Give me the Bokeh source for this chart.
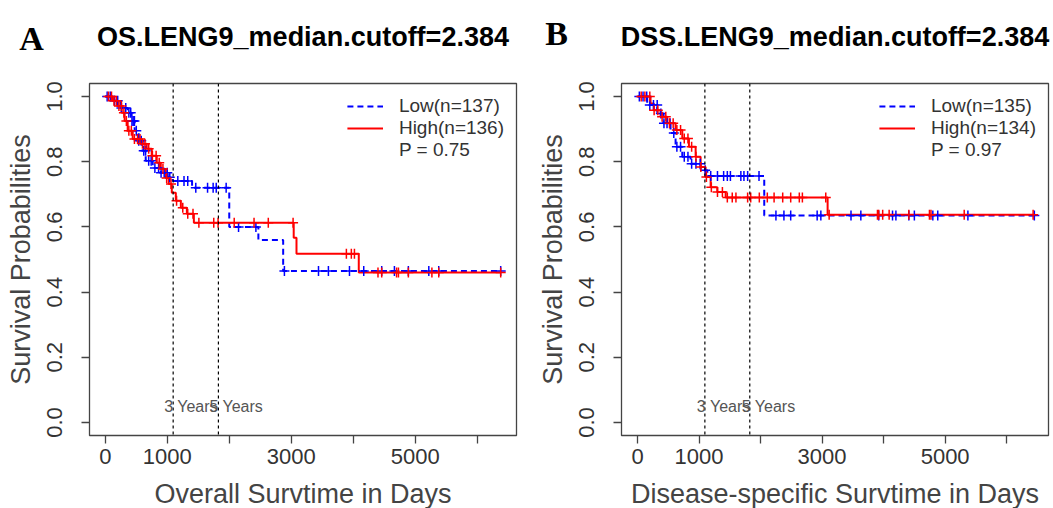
import numpy as np
from bokeh.plotting import figure
from bokeh.layouts import row
from bokeh.models import Range1d, FixedTicker, Span, Label, Legend, LegendItem
from bokeh.embed import file_html
from bokeh.resources import INLINE

# ---------------- data ----------------
x_ticks = [0, 1000, 2000, 3000, 4000, 5000, 6000]
x_tick_labels = ["0", "1000", "", "3000", "", "5000", ""]
y_ticks = [0.0, 0.2, 0.4, 0.6, 0.8, 1.0]
y_tick_labels = ["0.0", "0.2", "0.4", "0.6", "0.8", "1.0"]
year_marks = [1095, 1825]
year_labels = ["3 Years", "5 Years"]
y_label = "Survival Probabilities"

# Panel A: overall survival
os_panel = "A"
os_title = "OS.LENG9_median.cutoff=2.384"
os_xlabel = "Overall Survtime in Days"
os_legend = ["Low(n=137)", "High(n=136)", "P = 0.75"]
os_low_time = [0, 134, 248, 360, 425, 474, 539, 603, 652, 765, 895, 1008, 1089, 1400,
               2000, 2470, 2870, 6380]
os_low_surv = [1.0, 0.987, 0.965, 0.95, 0.925, 0.895, 0.864, 0.834, 0.803, 0.781, 0.766,
               0.752, 0.741, 0.72, 0.60, 0.56, 0.465, 0.465]
os_low_cens = [30, 80, 150, 200, 260, 330, 380, 410, 430, 450, 470, 500, 540, 580, 620,
               650, 700, 740, 800, 860, 900, 950, 1000, 1040, 1170, 1270, 1330, 1460,
               1650, 1740, 1790, 1950, 2150, 2430, 2890, 3440, 3600, 3940, 4170, 4460,
               4665, 4890, 5220, 5380, 6380]
os_high_time = [0, 118, 199, 264, 312, 361, 442, 571, 668, 749, 830, 895, 976, 1024, 1073,
                1138, 1219, 1316, 1429, 3040, 3085, 4090, 6380]
os_high_surv = [1.0, 0.987, 0.971, 0.95, 0.925, 0.895, 0.87, 0.855, 0.84, 0.818, 0.797,
                0.778, 0.75, 0.732, 0.705, 0.68, 0.659, 0.64, 0.613, 0.567, 0.518, 0.46, 0.46]
os_high_cens = [50, 100, 140, 180, 220, 260, 300, 340, 380, 420, 470, 520, 560, 600, 640,
                700, 760, 820, 870, 930, 990, 1060, 1150, 1250, 1330, 1415, 1510, 1750,
                1820, 2080, 2400, 2630, 3030, 3890, 3970, 4020, 4400, 4460, 4700, 4730,
                4890, 5270, 5380, 6380]

# Panel B: disease-specific survival
dss_panel = "B"
dss_title = "DSS.LENG9_median.cutoff=2.384"
dss_xlabel = "Disease-specific Survtime in Days"
dss_legend = ["Low(n=135)", "High(n=134)", "P = 0.97"]
dss_low_time = [0, 158, 321, 423, 537, 619, 728, 863, 1026, 1135, 2060, 6450]
dss_low_surv = [1.0, 0.974, 0.948, 0.918, 0.888, 0.846, 0.815, 0.794, 0.774, 0.756,
                0.635, 0.635]
dss_low_cens = [30, 90, 150, 200, 260, 320, 380, 430, 480, 530, 590, 640, 700, 760, 820,
                880, 950, 1020, 1100, 1190, 1300, 1400, 1460, 1510, 1680, 1730, 1790,
                1975, 2250, 2380, 2490, 2920, 2980, 3470, 3630, 3920, 4145, 4200, 4410,
                4500, 4800, 4880, 5370, 6450]
dss_high_time = [0, 212, 266, 375, 484, 619, 728, 836, 945, 1026, 1107, 1189, 1297, 1433,
                 3090, 6430]
dss_high_surv = [1.0, 0.979, 0.958, 0.938, 0.918, 0.897, 0.871, 0.846, 0.815, 0.784,
                 0.753, 0.722, 0.707, 0.69, 0.637, 0.637]
dss_high_cens = [60, 120, 200, 270, 330, 400, 460, 520, 580, 640, 700, 760, 820, 880, 950,
                 1030, 1120, 1200, 1300, 1380, 1460, 1540, 1600, 1790, 1840, 1980, 2110,
                 2220, 2360, 2490, 2630, 2680, 3060, 3115, 3900, 3920, 3985, 4090, 4410,
                 4745, 4770, 5310, 6430]

FONT = "Liberation Sans"
BLUE = "#0000FF"
RED = "#FF0000"
FRAME_W, FRAME_H = 427, 352
Y_RANGE = (-0.04, 1.04)


def surv_at(times, surv, pts):
    t = np.asarray(times, dtype=float)
    s = np.asarray(surv, dtype=float)
    idx = np.searchsorted(t, np.asarray(pts, dtype=float), side="right") - 1
    return s[np.clip(idx, 0, len(s) - 1)]


def km_panel(panel, title, xlabel, legend_labels, low_t, low_s, low_c, high_t, high_s,
             high_c, xr, border_l, border_r, year_dx, letter_px, title_py, letter_py):
    p = figure(frame_width=FRAME_W, frame_height=FRAME_H, x_range=Range1d(*xr),
               y_range=Range1d(*Y_RANGE), output_backend="svg",
               toolbar_location=None, min_border_left=border_l,
               min_border_right=border_r, min_border_top=83, min_border_bottom=72)
    p.background_fill_color = "white"
    p.border_fill_color = "white"
    p.outline_line_color = "#444444"
    p.outline_line_width = 1.3
    p.xgrid.grid_line_color = None
    p.ygrid.grid_line_color = None

    # axes
    p.xaxis.ticker = FixedTicker(ticks=x_ticks)
    p.xaxis.major_label_overrides = {t: l for t, l in zip(x_ticks, x_tick_labels)}
    p.yaxis.ticker = FixedTicker(ticks=y_ticks)
    p.yaxis.major_label_overrides = {t: l for t, l in zip(y_ticks, y_tick_labels)}
    p.yaxis.major_label_orientation = "vertical"
    for ax in (p.xaxis, p.yaxis):
        ax.axis_line_color = None
        ax.major_tick_line_color = "#444444"
        ax.major_tick_line_width = 1.3
        ax.major_tick_out = 8
        ax.major_tick_in = 0
        ax.minor_tick_line_color = None
        ax.major_label_text_font = FONT
        ax.major_label_text_color = "#333333"
        ax.axis_label_text_font = FONT
        ax.axis_label_text_font_style = "normal"
        ax.axis_label_text_color = "#444444"
        ax.axis_label_text_font_size = "27px"
    p.xaxis.major_label_text_font_size = "22px"
    p.yaxis.major_label_text_font_size = "22px"
    p.xaxis.major_label_standoff = 5
    p.xaxis.axis_label_standoff = 12
    p.yaxis.major_label_standoff = 19
    p.yaxis.axis_label_standoff = 9
    p.xaxis.axis_label = xlabel
    p.yaxis.axis_label = y_label

    # year reference lines
    for loc, lab in zip(year_marks, year_labels):
        p.add_layout(Span(location=loc, dimension="height", line_color="black",
                          line_dash="3 3", line_width=1.2))
        p.add_layout(Label(x=loc, y=0.05, text=lab, x_offset=year_dx, text_align="left",
                           text_baseline="middle", text_font=FONT,
                           text_font_size="16px", text_color="#555555"))

    # curves
    low_r = p.step(x=low_t, y=low_s, mode="after", line_color=BLUE, line_width=2,
                   line_dash="6 4")
    high_r = p.step(x=high_t, y=high_s, mode="after", line_color=RED, line_width=2)
    p.scatter(x=low_c, y=surv_at(low_t, low_s, low_c), marker="cross", size=10,
              line_color=BLUE, line_width=1.5)
    p.scatter(x=high_c, y=surv_at(high_t, high_s, high_c), marker="cross", size=10,
              line_color=RED, line_width=1.5)
    dummy = p.line(x=[], y=[], line_alpha=0)

    legend = Legend(items=[LegendItem(label=legend_labels[0], renderers=[low_r]),
                           LegendItem(label=legend_labels[1], renderers=[high_r]),
                           LegendItem(label=legend_labels[2], renderers=[dummy])],
                    location="top_right", border_line_color=None,
                    background_fill_alpha=0, label_text_font=FONT,
                    label_text_font_size="19px", label_text_color="#333333",
                    glyph_width=36, glyph_height=20, label_height=22, spacing=0,
                    padding=8, margin=12, label_standoff=16)
    p.add_layout(legend)

    # title and panel letter: placed in the top panel (not clipped to the frame)
    ppx = (xr[1] - xr[0]) / FRAME_W          # data units per pixel (x)
    ppy = (Y_RANGE[1] - Y_RANGE[0]) / FRAME_H  # data units per pixel (y)
    p.add_layout(Label(x=(xr[0] + xr[1]) / 2.0, y=Y_RANGE[1] + title_py * ppy,
                       text=title, text_align="center", text_baseline="middle",
                       text_font=FONT, text_font_size="27px", text_font_style="bold",
                       text_color="black"), "above")
    p.add_layout(Label(x=xr[0] - letter_px * ppx, y=Y_RANGE[1] + letter_py * ppy,
                       text=panel, text_align="center", text_baseline="middle",
                       text_font="Liberation Serif", text_font_size="34px",
                       text_font_style="bold", text_color="black"), "above")
    return p


pa = km_panel(os_panel, os_title, os_xlabel, os_legend, os_low_time, os_low_surv,
              os_low_cens, os_high_time, os_high_surv, os_high_cens, (-255, 6635),
              89, 16, -9, 58, 47, 45)
pb = km_panel(dss_panel, dss_title, dss_xlabel, dss_legend, dss_low_time, dss_low_surv,
              dss_low_cens, dss_high_time, dss_high_surv, dss_high_cens, (-260, 6680),
              89, 3, -8, 65, 47, 50)

layout = row(pa, pb)
open("out.html", "w").write(file_html(layout, INLINE))
